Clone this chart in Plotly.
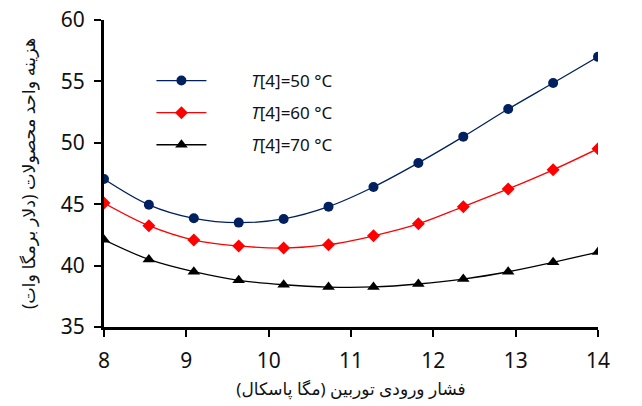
import plotly.graph_objects as go

pressure = [8.0, 8.545, 9.091, 9.636, 10.182, 10.727, 11.273, 11.818, 12.364, 12.909, 13.455, 14.0]
cost_50 = [47.05, 44.95, 43.85, 43.5, 43.8, 44.8, 46.4, 48.36, 50.5, 52.75, 54.87, 57.0]
cost_60 = [45.1, 43.25, 42.08, 41.6, 41.43, 41.7, 42.43, 43.4, 44.8, 46.24, 47.8, 49.52]
cost_70 = [42.1, 40.5, 39.5, 38.8, 38.44, 38.25, 38.26, 38.5, 38.9, 39.5, 40.27, 41.1]
series_names = ["<i>T</i>[4]=50 °C", "<i>T</i>[4]=60 °C", "<i>T</i>[4]=70 °C"]
x_ticks = [8, 9, 10, 11, 12, 13, 14]
y_ticks = [35, 40, 45, 50, 55, 60]

fig = go.Figure()
styles = [
    (cost_50, "#002060", "circle", 10),
    (cost_60, "#FF0000", "diamond", 10),
    (cost_70, "#000000", "triangle-up", 11),
]
for i, ((vals, color, sym, size), name) in enumerate(zip(styles, series_names)):
    fig.add_trace(go.Scatter(
        x=pressure, y=vals, mode="lines+markers", name="\u00a0" * 9 + name,
        legendgroup=f"g{i}",
        line=dict(color=color, width=1.3, shape="spline"),
        marker=dict(color=color, symbol=sym, size=size),
    ))

axis_common = dict(showline=True, linecolor="black", linewidth=3, ticks="outside",
                   ticklen=7, tickwidth=2, tickcolor="black", showgrid=False,
                   zeroline=False, tickfont=dict(size=21, color="#111111"), automargin=False,
                   ticklabeloverflow="allow")

fig.update_layout(
    width=642, height=406,
    margin=dict(l=104, r=44, t=20, b=79),
    plot_bgcolor="white", paper_bgcolor="white",
    font=dict(family="Noto Sans, DejaVu Sans", color="#111111"),
    showlegend=True,
    legend=dict(x=0.096, y=0.86, xanchor="left", yanchor="top",
                bgcolor="rgba(0,0,0,0)", font=dict(size=17, color="#111111"),
                itemwidth=50, traceorder="grouped", tracegroupgap=7),
    xaxis=dict(range=[8, 14], tickvals=x_ticks, ticklabelstandoff=6,
               title=dict(text="فشار ورودی توربین (مگا پاسکال)", font=dict(size=17), standoff=10),
               **axis_common),
    yaxis=dict(range=[35, 60], tickvals=y_ticks, ticklabelstandoff=5,
               title=dict(text="هزینه واحد محصولات (دلار برمگا وات)", font=dict(size=17.5), standoff=21),
               **axis_common),
)

fig.write_html("out.html", config={"displayModeBar": False},
               post_script="document.body.style.margin='0';")
